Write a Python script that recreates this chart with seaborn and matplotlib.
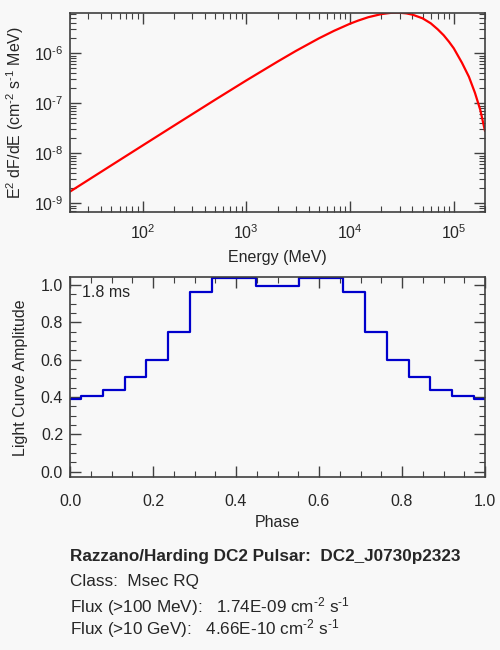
import numpy as np
import pandas as pd
import matplotlib
matplotlib.use('Agg')
import matplotlib.pyplot as plt
import seaborn as sns
from matplotlib.ticker import MultipleLocator, FuncFormatter, FormatStrFormatter

# spectrum (log10 of E^2 dF/dE)
energy = [20, 50, 100, 200, 500, 1000, 2000, 3000, 5000, 7000, 10000, 12000,
          15000, 20000, 25000, 28000, 30000, 35000, 40000, 50000, 60000, 70000,
          80000, 90000, 100000, 120000, 140000, 160000, 180000, 200000]
log_e2dfde = [-8.766, -8.241, -7.845, -7.450, -6.930, -6.543, -6.167, -5.954,
              -5.702, -5.551, -5.408, -5.345, -5.278, -5.216, -5.190, -5.187,
              -5.188, -5.202, -5.227, -5.300, -5.400, -5.520, -5.640, -5.770,
              -5.900, -6.190, -6.470, -6.790, -7.130, -7.554]
e2dfde = [10 ** v for v in log_e2dfde]

# light curve, 20 phase points drawn as mid steps
phase = [k / 19 for k in range(20)]
amplitude = [0.388, 0.405, 0.438, 0.507, 0.598, 0.750, 0.962, 1.036, 1.036, 0.995,
             0.995, 1.036, 1.036, 0.962, 0.750, 0.598, 0.507, 0.438, 0.405, 0.388]

info_title = 'Razzano/Harding DC2 Pulsar:  DC2_J0730p2323'
info_class = 'Class:  Msec RQ'
flux_100mev = '1.74E-09'
flux_10gev = '4.66E-10'
period_txt = '1.8 ms'

HY = '\u2010'  # short hyphen for the superscripts, like the original

sns.set_style('ticks')
plt.rcParams['font.family'] = ['Liberation Sans', 'DejaVu Sans']
plt.rcParams['mathtext.fontset'] = 'custom'
plt.rcParams['mathtext.rm'] = 'Liberation Sans'
plt.rcParams['mathtext.it'] = 'Liberation Sans'
plt.rcParams['mathtext.bf'] = 'Liberation Sans:bold'
plt.rcParams['font.size'] = 11.5

bg = '#f8f8f8'
edge = '#404040'
fig = plt.figure(figsize=(5, 6.5), dpi=100, facecolor=bg)

ax1 = fig.add_axes([0.14, 1 - 212 / 650, 0.83, 199 / 650])
ax2 = fig.add_axes([0.14, 1 - 477.3 / 650, 0.83, 200 / 650])

spec = pd.DataFrame({'E': energy, 'F': e2dfde})
sns.lineplot(data=spec, x='E', y='F', ax=ax1, color='#ff0000', lw=1.6)
ax1.set_xscale('log')
ax1.set_yscale('log')
ax1.set_xlim(20, 2e5)
ax1.set_ylim(6.7e-10, 6.4e-6)


def pow10(v, pos):
    e = int(round(np.log10(v)))
    s = str(e).replace('-', HY)
    return r'10$^{%s}$' % s


ax1.xaxis.set_major_formatter(FuncFormatter(pow10))
ax1.yaxis.set_major_formatter(FuncFormatter(pow10))
ax1.set_xlabel('Energy (MeV)')
ax1.set_ylabel(r'E$^2$ dF/dE (cm$^{%s2}$ s$^{%s1}$ MeV)' % (HY, HY))

lc = pd.DataFrame({'phase': phase, 'amp': amplitude})
sns.lineplot(data=lc, x='phase', y='amp', ax=ax2, color='#0000cc', lw=1.6,
             drawstyle='steps-mid')
ax2.set_xlim(0, 1)
ax2.set_ylim(-0.03, 1.041)
ax2.xaxis.set_major_locator(MultipleLocator(0.2))
ax2.xaxis.set_minor_locator(MultipleLocator(0.05))
ax2.yaxis.set_major_locator(MultipleLocator(0.2))
ax2.yaxis.set_minor_locator(MultipleLocator(0.05))
ax2.xaxis.set_major_formatter(FormatStrFormatter('%.1f'))
ax2.yaxis.set_major_formatter(FormatStrFormatter('%.1f'))
ax2.set_xlabel('Phase')
ax2.set_ylabel('Light Curve Amplitude')
ax2.text(0.028, 0.923, period_txt, transform=ax2.transAxes, va='center', ha='left')

for ax in (ax1, ax2):
    ax.set_facecolor(bg)
    for s in ax.spines.values():
        s.set_color(edge)
        s.set_linewidth(1.2)
        s.set_visible(True)
    ax.tick_params(which='both', direction='in', top=True, right=True, color=edge)
    ax.tick_params(which='major', length=8, width=1)
    ax.tick_params(which='minor', length=4, width=0.8)
    ax.tick_params(axis='y', pad=5)

ax1.tick_params(axis='x', pad=8)
ax2.tick_params(axis='x', pad=12)
ax1.yaxis.set_label_coords(-0.106, 0.5)
ax2.yaxis.set_label_coords(-0.100, 0.5)
ax1.xaxis.set_label_coords(0.5, -0.19)
ax2.xaxis.set_label_coords(0.5, -0.19)

fs = 12.3
fig.text(0.141, 1 - 557 / 650, info_title, fontweight='bold', va='center', fontsize=fs)
fig.text(0.141, 1 - 581.5 / 650, info_class, va='center', fontsize=fs)
fig.text(0.141, 1 - 607 / 650,
         'Flux (>100 MeV):   ' + flux_100mev + r' cm$^{%s2}$ s$^{%s1}$' % (HY, HY),
         va='center', fontsize=fs)
fig.text(0.141, 1 - 629 / 650,
         'Flux (>10 GeV):   ' + flux_10gev + r' cm$^{%s2}$ s$^{%s1}$' % (HY, HY),
         va='center', fontsize=fs)

fig.savefig('out.png', dpi=100, facecolor=bg)
